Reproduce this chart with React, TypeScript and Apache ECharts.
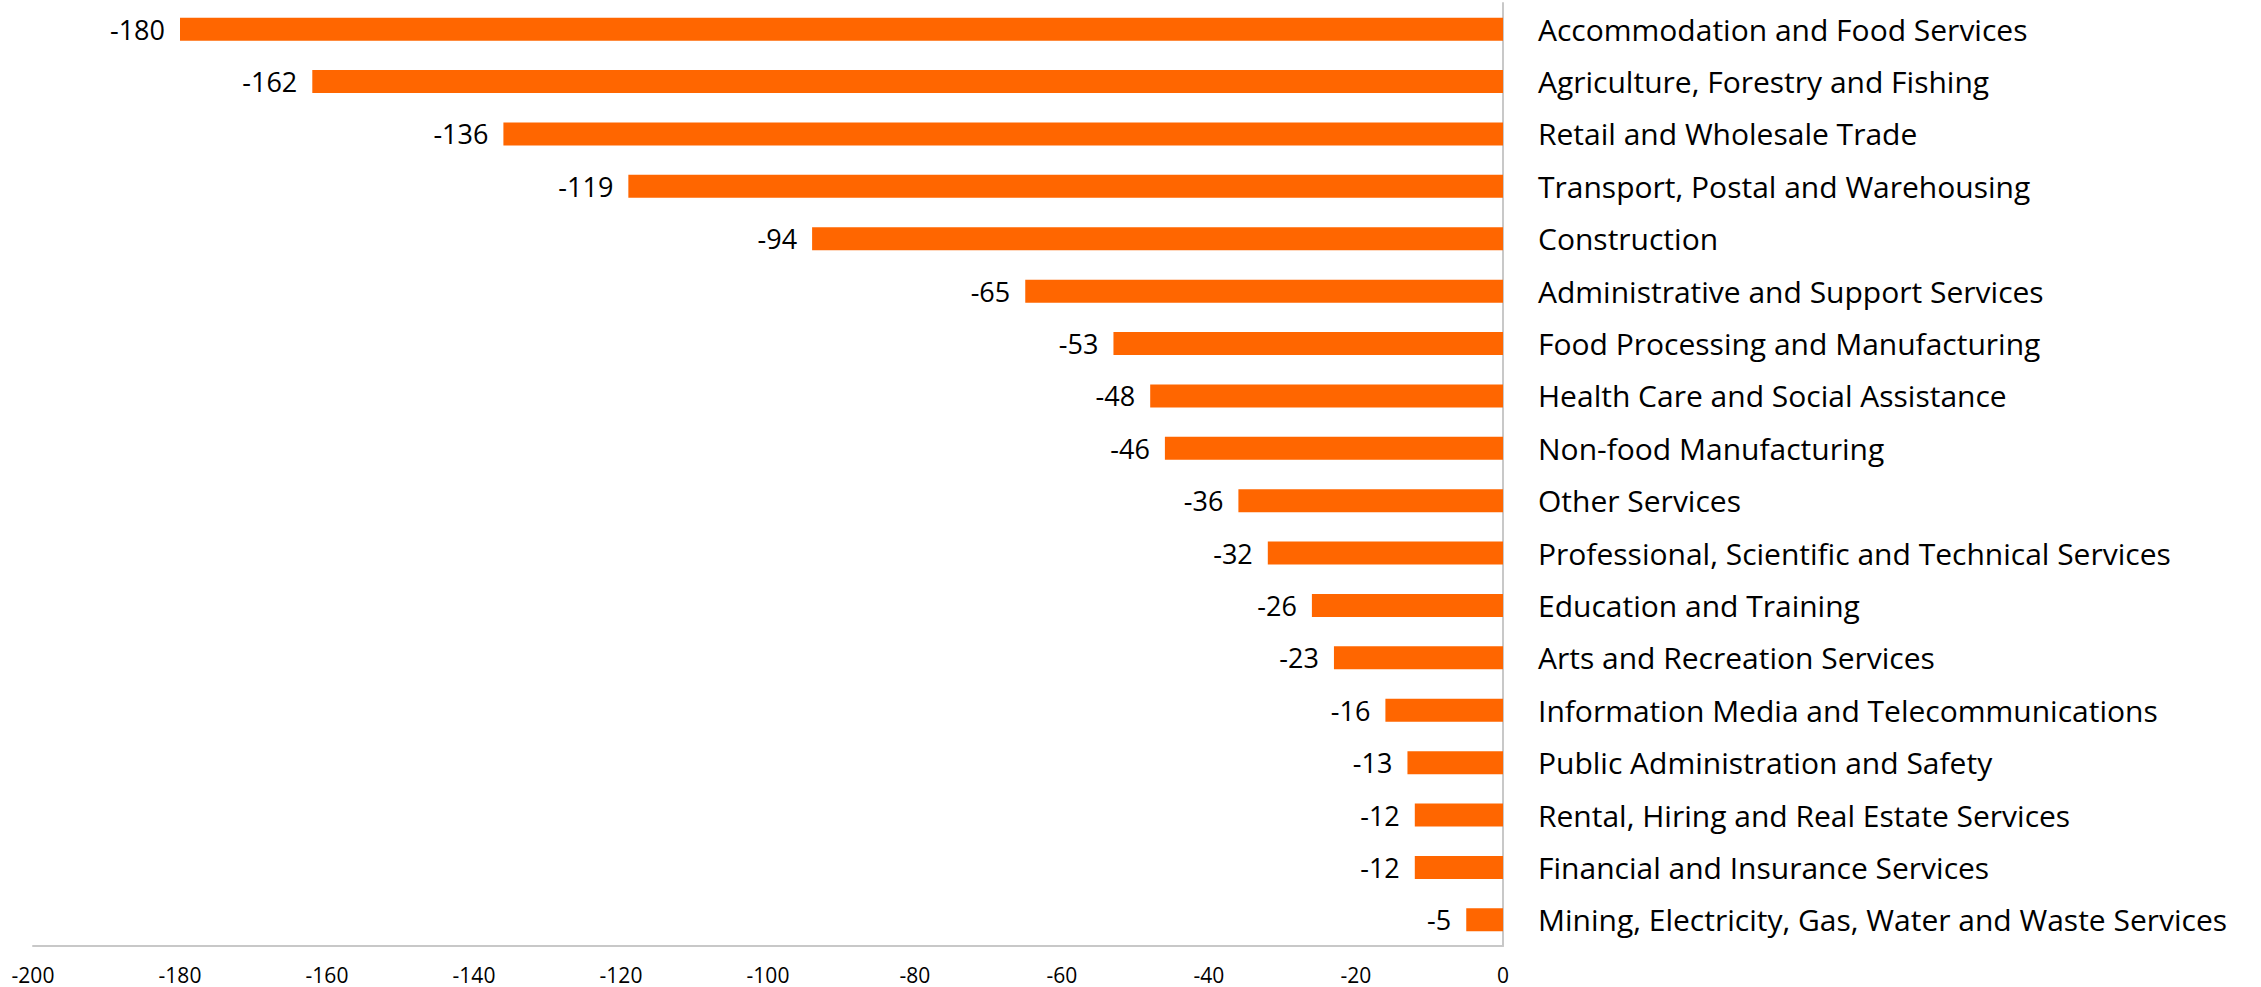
import React, { useEffect, useRef } from "react";
import * as echarts from "echarts";

const categories = [
  "Accommodation and Food Services",
  "Agriculture, Forestry and Fishing",
  "Retail and Wholesale Trade",
  "Transport, Postal and Warehousing",
  "Construction",
  "Administrative and Support Services",
  "Food Processing and Manufacturing",
  "Health Care and Social Assistance",
  "Non-food Manufacturing",
  "Other Services",
  "Professional, Scientific and Technical Services",
  "Education and Training",
  "Arts and Recreation Services",
  "Information Media and Telecommunications",
  "Public Administration and Safety",
  "Rental, Hiring and Real Estate Services",
  "Financial and Insurance Services",
  "Mining, Electricity, Gas, Water and Waste Services",
];

const values = [-180, -162, -136, -119, -94, -65, -53, -48, -46, -36, -32, -26, -23, -16, -13, -12, -12, -5];

const xMin = -200;
const xMax = 0;
const xInterval = 20;

const FONT = "'Open Sans', 'Noto Sans', 'DejaVu Sans', sans-serif";

export default function App() {
  const ref = useRef<HTMLDivElement>(null);

  useEffect(() => {
    document.body.style.margin = "0";
    if (!ref.current) return;
    const chart = echarts.init(ref.current, undefined, { renderer: "svg" });
    chart.setOption({
      animation: false,
      backgroundColor: "#ffffff",
      grid: { left: 33, right: 758, top: 3, bottom: 41, containLabel: false },
      xAxis: {
        type: "value",
        min: xMin,
        max: xMax,
        interval: xInterval,
        splitLine: { show: false },
        axisTick: { show: false },
        axisLine: { show: true, lineStyle: { color: "#c8c8c8", width: 2 } },
        axisLabel: { color: "#000000", fontSize: 21, fontFamily: FONT, margin: 18 },
      },
      yAxis: {
        type: "category",
        data: categories,
        inverse: true,
        position: "right",
        axisTick: { show: false },
        axisLine: { show: true, lineStyle: { color: "#c8c8c8", width: 2 } },
        axisLabel: { color: "#000000", fontSize: 30, fontFamily: FONT, margin: 35, align: "left" },
      },
      series: [
        {
          type: "bar",
          data: values,
          barWidth: 23,
          itemStyle: { color: "#ff6600" },
          label: {
            show: true,
            position: "left",
            distance: 15,
            color: "#000000",
            fontSize: 27,
            fontFamily: FONT,
          },
        },
      ],
    });
    return () => chart.dispose();
  }, []);

  return <div ref={ref} style={{ width: 2261, height: 987 }} />;
}
